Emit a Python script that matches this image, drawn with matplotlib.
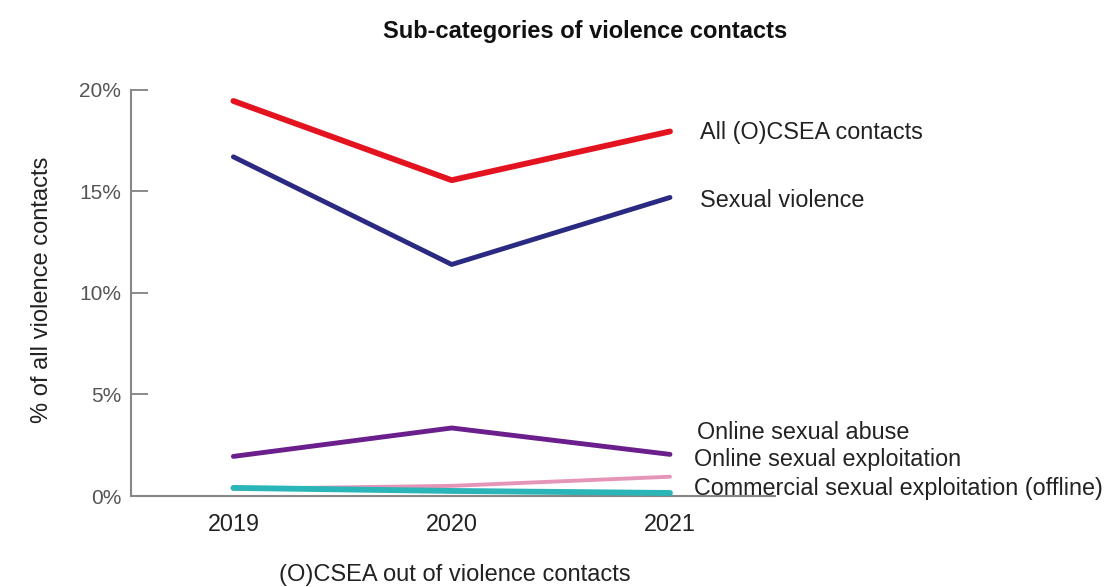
import matplotlib
matplotlib.use("Agg")
import matplotlib.pyplot as plt
from matplotlib.ticker import FuncFormatter

years = ["2019", "2020", "2021"]
series_names = ["All (O)CSEA contacts", "Sexual violence", "Online sexual abuse",
                "Online sexual exploitation", "Commercial sexual exploitation (offline)"]
all_csea = [19.45, 15.55, 17.95]
sexual_violence = [16.7, 11.4, 14.7]
online_abuse = [1.95, 3.35, 2.05]
online_exploitation = [0.35, 0.5, 0.95]
commercial = [0.4, 0.25, 0.15]

colors = ["#e3141f", "#2b2a82", "#6a1f8c", "#e595b8", "#2ab5b8"]
widths = [4.2, 3.5, 3.5, 2.8, 4.2]
# label offsets in pixels (dx, dy) relative to line end
offsets = [(30, -1), (30, -3), (27, 22), (24, 17), (24, 4)]

plt.rcParams['font.family'] = ['Liberation Sans', 'DejaVu Sans']
fig = plt.figure(figsize=(11.18, 5.87), dpi=100)
ax = fig.add_axes([0.117, 0.155, 0.576, 0.692])

x = list(range(len(years)))
data = [all_csea, sexual_violence, online_abuse, online_exploitation, commercial]
order = [3, 4, 2, 1, 0]
for i in order:
    ax.plot(x, data[i], color=colors[i], lw=widths[i], solid_capstyle='round', zorder=3 + i)
for i in range(len(data)):
    dx, dy = offsets[i]
    ax.annotate(series_names[i], xy=(x[-1], data[i][-1]), xytext=(dx * 0.72, dy * 0.72),
                textcoords='offset points', ha='left', va='center', fontsize=16.8,
                color='#222222', annotation_clip=False)

ax.set_xlim(-0.47, 2.48)
ax.set_ylim(0, 20)
ax.set_yticks([0, 5, 10, 15, 20])
ax.yaxis.set_major_formatter(FuncFormatter(lambda v, p: f"{int(v)}%"))
ax.set_xticks(x)
ax.set_xticklabels(years)
ax.tick_params(axis='y', direction='in', length=12, width=1.2, color='#777777',
               labelcolor='#555555', labelsize=15, pad=7)
ax.tick_params(axis='x', length=0, labelsize=16.8, labelcolor='#222222', pad=12)
for s in ['top', 'right']:
    ax.spines[s].set_visible(False)
for s in ['left', 'bottom']:
    ax.spines[s].set_color('#888888')
    ax.spines[s].set_linewidth(1.5)

ax.set_ylabel("% of all violence contacts", fontsize=17, color='#222222')
ax.yaxis.set_label_coords(-0.121, 0.507)
fig.text(0.407, 0.02, "(O)CSEA out of violence contacts", ha='center', va='center',
         fontsize=17, color='#222222')
fig.text(0.523, 0.947, "Sub-categories of violence contacts", ha='center', va='center',
         fontsize=17, fontweight='bold', color='#111111')

fig.savefig("out.png", dpi=100)
